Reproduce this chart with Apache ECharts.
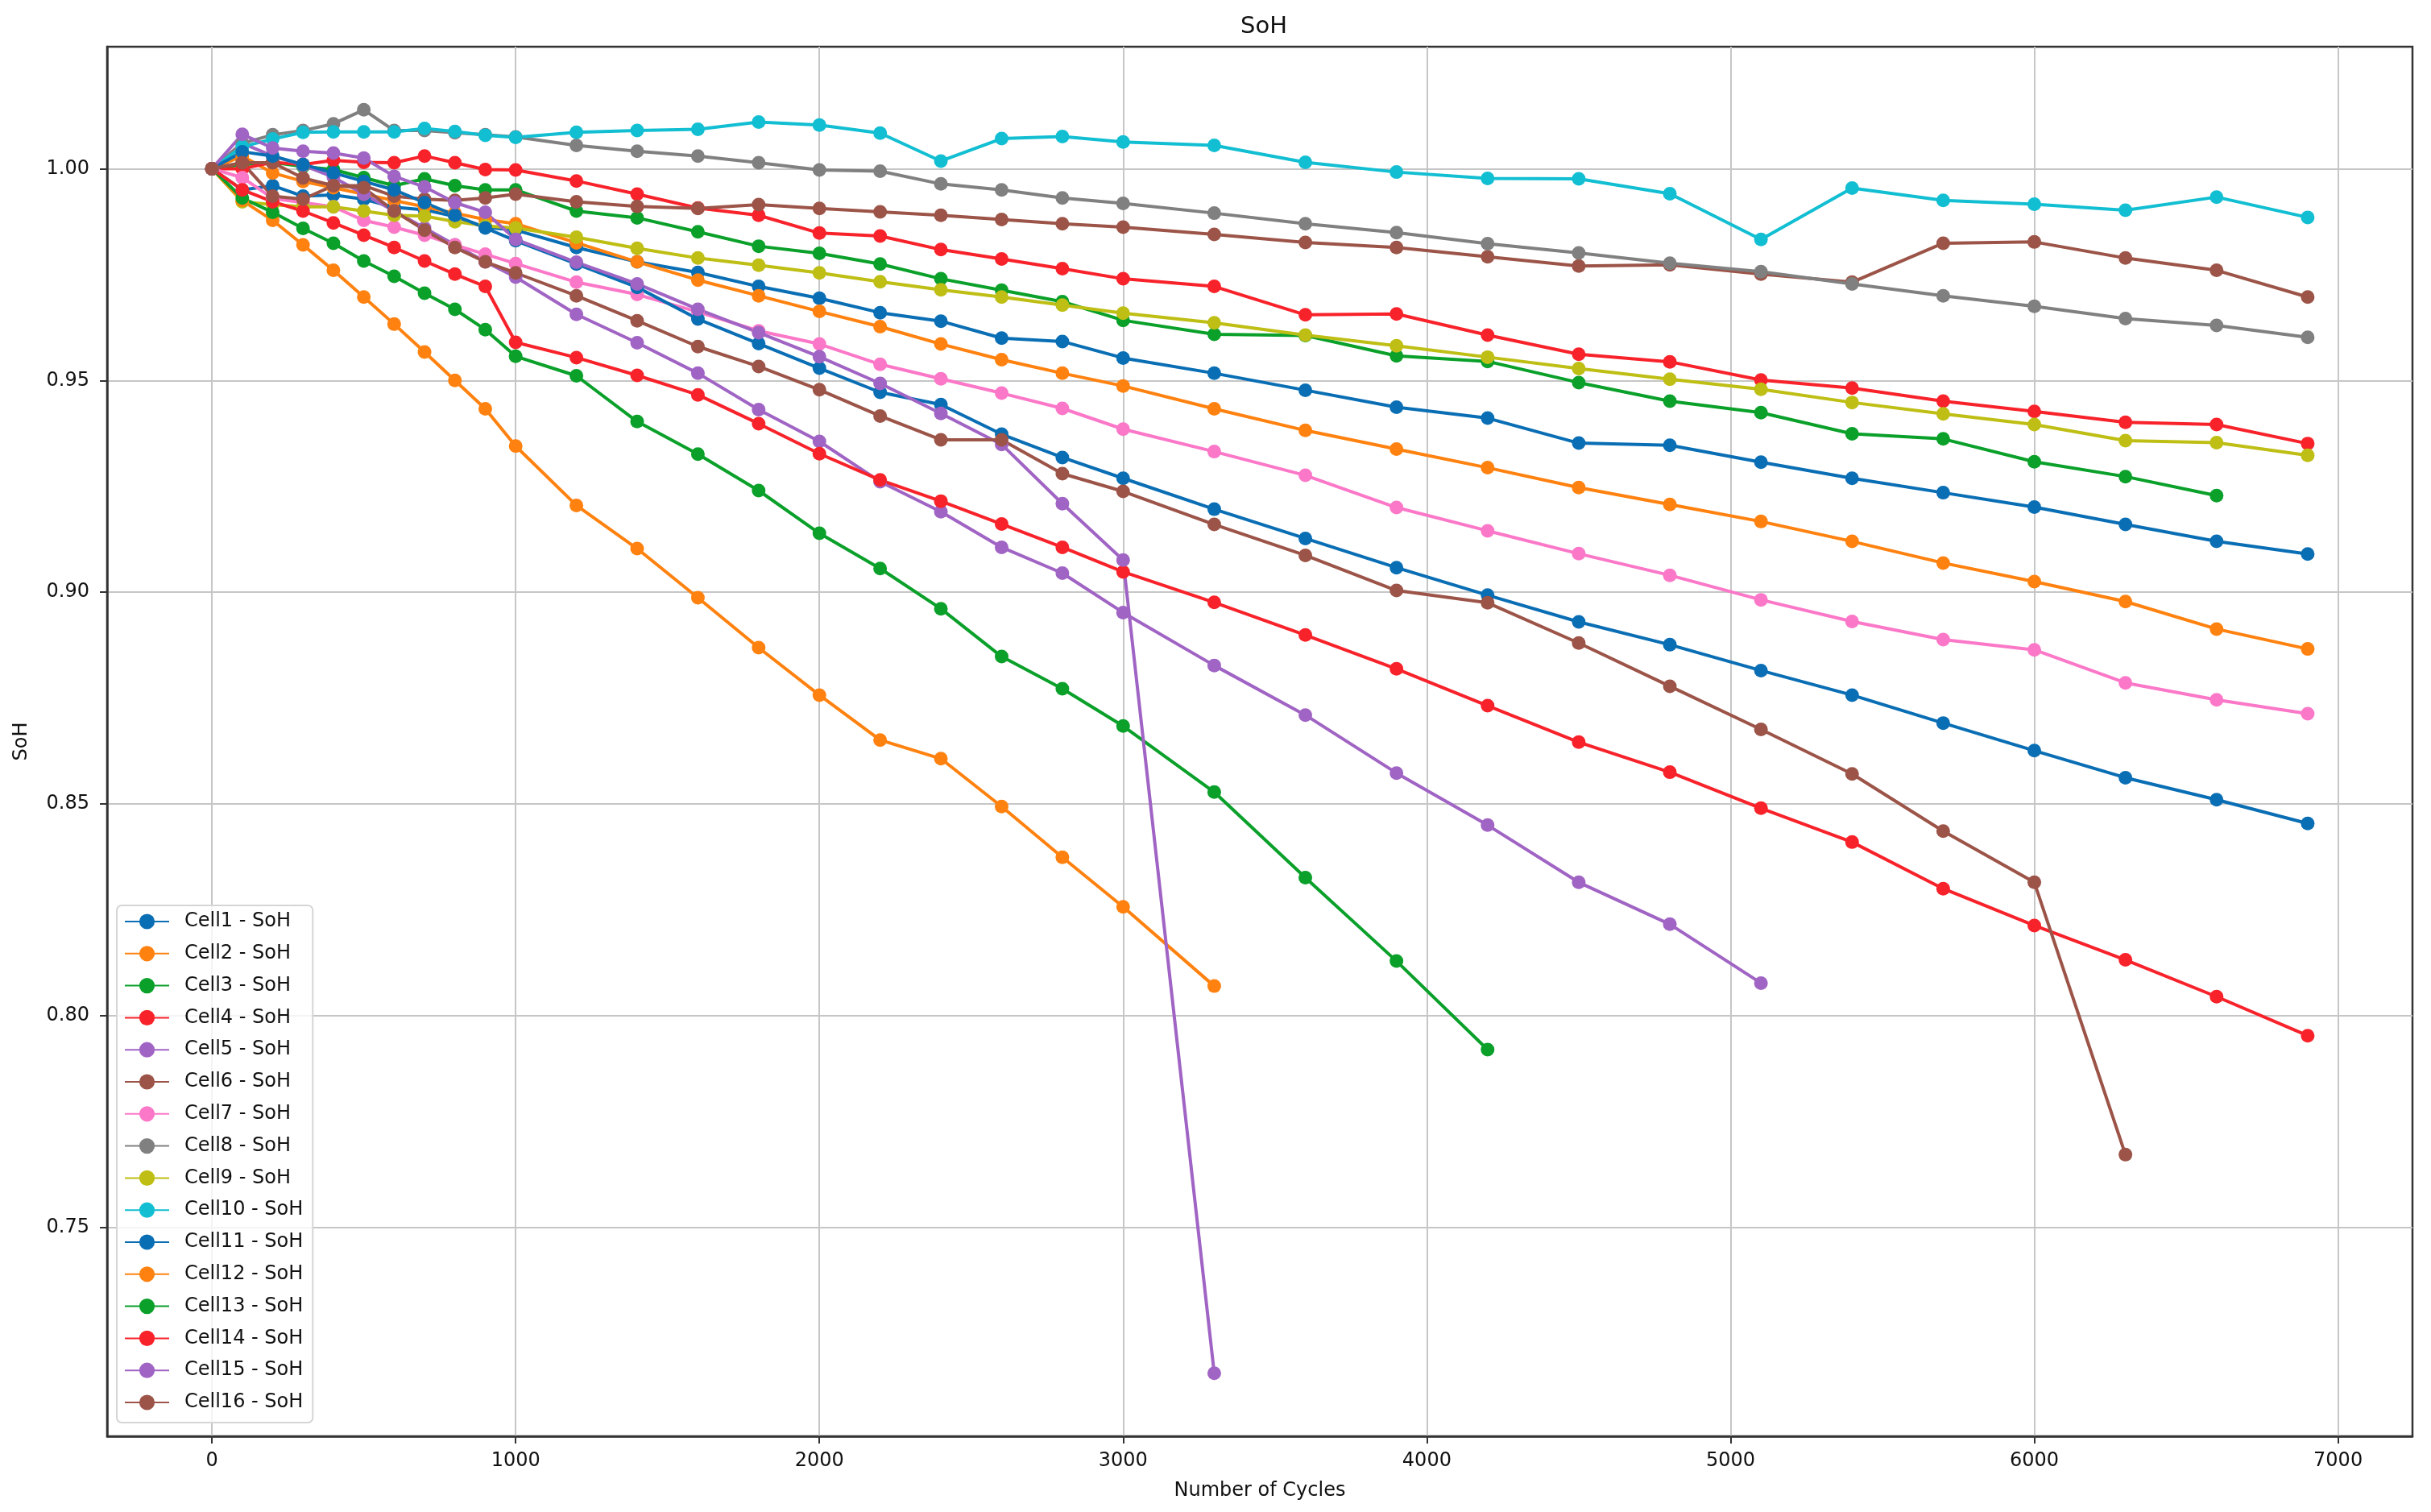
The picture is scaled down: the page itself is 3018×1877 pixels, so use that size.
<!DOCTYPE html>
<html>
<head>
<meta charset="utf-8">
<title>SoH</title>
<script src="https://cdn.jsdelivr.net/npm/echarts@6/dist/echarts.min.js"></script>
<style>
  html, body { margin: 0; padding: 0; background: #fff; }
  #soh_charts { width: 3018px; height: 1877px; }
</style>
</head>
<body>
<div id="soh_charts"></div>
<script>
// x轴 - 循环次数
var cycles = [0, 100, 200, 300, 400, 500, 600, 700, 800, 900, 1000, 1200, 1400, 1600, 1800, 2000, 2200, 2400, 2600, 2800, 3000, 3300, 3600, 3900, 4200, 4500, 4800, 5100, 5400, 5700, 6000, 6300, 6600, 6900]

// 每个电芯的 SoH
var cell1 = [1.000, 0.995, 0.996, 0.9935, 0.9938, 0.9928, 0.9909, 0.9903, 0.9887, 0.9862, 0.9855, 0.9814, 0.978, 0.9755, 0.9722, 0.9694, 0.966, 0.964, 0.960, 0.9592, 0.9553, 0.9517, 0.9477, 0.9437, 0.9411, 0.9352, 0.9347, 0.9307, 0.9269, 0.9235, 0.9201, 0.916, 0.912, 0.909]
var cell2 = [1.000, 1.003, 0.999, 0.997, 0.9955, 0.994, 0.9925, 0.991, 0.9895, 0.988, 0.987, 0.9825, 0.978, 0.9737, 0.970, 0.9663, 0.9627, 0.9586, 0.9549, 0.9517, 0.9487, 0.9433, 0.9382, 0.9338, 0.9294, 0.9247, 0.9207, 0.9167, 0.912, 0.9069, 0.9025, 0.8978, 0.8913, 0.8866]
var cell3 = [1.000, 1.001, 1.0015, 1.0005, 0.9998, 0.9979, 0.996, 0.9976, 0.996, 0.995, 0.995, 0.990, 0.9884, 0.9851, 0.9817, 0.980, 0.9775, 0.974, 0.9713, 0.9686, 0.9642, 0.9609, 0.9606, 0.9558, 0.9545, 0.9495, 0.9451, 0.9424, 0.9374, 0.9362, 0.9308, 0.9273, 0.9228]
var cell4 = [1.000, 1.000, 1.0015, 1.001, 1.002, 1.0015, 1.0014, 1.003, 1.0014, 0.9998, 0.9997, 0.9971, 0.994, 0.9907, 0.989, 0.9848, 0.9841, 0.9809, 0.9787, 0.9764, 0.974, 0.9722, 0.9655, 0.9657, 0.9607, 0.9562, 0.9544, 0.9501, 0.9482, 0.9451, 0.9427, 0.9401, 0.9396, 0.9351]
var cell5 = [1.000, 1.006, 1.003, 1.0008, 0.998, 0.994, 0.990, 0.986, 0.982, 0.978, 0.9744, 0.9656, 0.9589, 0.9517, 0.9431, 0.9356, 0.9261, 0.919, 0.9106, 0.9045, 0.8952, 0.8827, 0.871, 0.8573, 0.845, 0.8315, 0.8216, 0.8077]
var cell6 = [1.000, 1.0014, 1.0014, 0.9978, 0.996, 0.996, 0.9935, 0.9928, 0.9925, 0.9931, 0.994, 0.9922, 0.9911, 0.9906, 0.9915, 0.9906, 0.9898, 0.989, 0.988, 0.987, 0.9862, 0.9845, 0.9826, 0.9814, 0.9792, 0.977, 0.9773, 0.9751, 0.9732, 0.9824, 0.9827, 0.9789, 0.976, 0.9697]
var cell7 = [1.000, 0.9979, 0.993, 0.992, 0.991, 0.9878, 0.9862, 0.9843, 0.982, 0.9798, 0.9776, 0.9732, 0.9703, 0.9662, 0.9617, 0.9586, 0.9538, 0.9504, 0.947, 0.9434, 0.9385, 0.9332, 0.9276, 0.920, 0.9145, 0.9091, 0.904, 0.8982, 0.8931, 0.8888, 0.8864, 0.8786, 0.8746, 0.8713]
var cell8 = [1.000, 1.006, 1.008, 1.009, 1.0106, 1.0139, 1.009, 1.009, 1.0085, 1.008, 1.0075, 1.0055, 1.0041, 1.003, 1.0014, 0.9997, 0.9994, 0.9964, 0.995, 0.9931, 0.9918, 0.9895, 0.987, 0.9849, 0.9823, 0.9801, 0.9777, 0.9757, 0.9728, 0.970, 0.9675, 0.9646, 0.963, 0.9602]
var cell9 = [1.000, 0.9922, 0.9915, 0.991, 0.991, 0.990, 0.989, 0.9888, 0.9875, 0.9865, 0.986, 0.9838, 0.9812, 0.9789, 0.9772, 0.9754, 0.9733, 0.9714, 0.9697, 0.9678, 0.9659, 0.9636, 0.9607, 0.9582, 0.9555, 0.9528, 0.9503, 0.9479, 0.9448, 0.9421, 0.9396, 0.9358, 0.9353, 0.9323]
var cell10 = [1.000, 1.0052, 1.007, 1.0086, 1.0087, 1.0087, 1.0087, 1.0095, 1.0088, 1.0079, 1.0074, 1.0086, 1.009, 1.0093, 1.011, 1.0103, 1.0084, 1.0018, 1.0071, 1.0076, 1.0063, 1.0055, 1.0015, 0.9992, 0.9977, 0.9976, 0.9941, 0.9833, 0.9954, 0.9925, 0.9916, 0.9902, 0.9933, 0.9885]
var cell11 = [1.000, 1.004, 1.003, 1.001, 0.999, 0.997, 0.995, 0.992, 0.989, 0.986, 0.983, 0.9775, 0.972, 0.9645, 0.9587, 0.9529, 0.9472, 0.9443, 0.9373, 0.9318, 0.9269, 0.9196, 0.9127, 0.9058, 0.8993, 0.893, 0.8876, 0.8815, 0.8757, 0.8691, 0.8626, 0.8562, 0.851, 0.8454]
var cell12 = [1.000, 0.9925, 0.9878, 0.982, 0.976, 0.9697, 0.9633, 0.9567, 0.950, 0.9433, 0.9345, 0.9205, 0.9103, 0.8987, 0.8869, 0.8757, 0.8651, 0.8607, 0.8494, 0.8374, 0.8257, 0.807]
var cell13 = [1.000, 0.9931, 0.9897, 0.9859, 0.9824, 0.9782, 0.9746, 0.9706, 0.9668, 0.962, 0.9557, 0.9511, 0.9403, 0.9326, 0.924, 0.9139, 0.9056, 0.8961, 0.8848, 0.8772, 0.8684, 0.8528, 0.8326, 0.8129, 0.792]
var cell14 = [1.000, 0.995, 0.9922, 0.990, 0.9872, 0.9843, 0.9814, 0.9782, 0.9751, 0.9722, 0.959, 0.9554, 0.9512, 0.9466, 0.9398, 0.9327, 0.9265, 0.9215, 0.9161, 0.9106, 0.9048, 0.8976, 0.8899, 0.8819, 0.8732, 0.8646, 0.8575, 0.849, 0.841, 0.830, 0.8213, 0.8132, 0.8045, 0.7953]
var cell15 = [1.000, 1.0081, 1.0049, 1.0041, 1.0037, 1.0025, 0.9982, 0.9957, 0.992, 0.9897, 0.9833, 0.9779, 0.9728, 0.9668, 0.9613, 0.9556, 0.9493, 0.9422, 0.9349, 0.9209, 0.9076, 0.7156]
var cell16 = [1.000, 1.0014, 0.9935, 0.9928, 0.996, 0.9955, 0.990, 0.9855, 0.9814, 0.978, 0.9754, 0.970, 0.9641, 0.958, 0.9533, 0.9478, 0.9416, 0.936, 0.936, 0.928, 0.9238, 0.916, 0.9087, 0.9004, 0.8975, 0.888, 0.8778, 0.8676, 0.8571, 0.8436, 0.8315, 0.7672]

var cellNames = ['Cell1 - SoH', 'Cell2 - SoH', 'Cell3 - SoH', 'Cell4 - SoH', 'Cell5 - SoH', 'Cell6 - SoH', 'Cell7 - SoH', 'Cell8 - SoH', 'Cell9 - SoH', 'Cell10 - SoH', 'Cell11 - SoH', 'Cell12 - SoH', 'Cell13 - SoH', 'Cell14 - SoH', 'Cell15 - SoH', 'Cell16 - SoH']
var cellData = [cell1, cell2, cell3, cell4, cell5, cell6, cell7, cell8, cell9, cell10, cell11, cell12, cell13, cell14, cell15, cell16]

// 刻度
var xTicks = [0, 1000, 2000, 3000, 4000, 5000, 6000, 7000]
var yTicks = [0.75, 0.80, 0.85, 0.90, 0.95, 1.00]

var colors = ['#0a6eb4', '#ff8210', '#0aa02a', '#f8222a', '#a064c4', '#9c5448', '#fb78c8', '#808080', '#bebe14', '#12bed2',
  '#0a6eb4', '#ff8210', '#0aa02a', '#f8222a', '#a064c4', '#9c5448']

var font = 'DejaVu Sans'

var series = cellNames.map(function (name, i) {
  var vals = cellData[i]
  return {
    name: name,
    type: 'line',
    symbol: 'circle',
    symbolSize: 17,
    showAllSymbol: true,
    lineStyle: { color: colors[i], width: 4 },
    itemStyle: { color: colors[i] },
    emphasis: { disabled: true },
    data: vals.map(function (v, k) { return [cycles[k], v] }),
  }
})

var myChart = echarts.init(document.getElementById('soh_charts'), null, { renderer: 'canvas' })

var option = {
  animation: false,
  backgroundColor: '#fff',
  color: colors,
  title: {
    text: 'SoH',
    left: 1564,
    textAlign: 'center',
    top: 14,
    textStyle: { fontFamily: font, fontSize: 29, fontWeight: 'normal', color: '#111' },
  },
  grid: {
    left: 133,
    right: 23,
    top: 58,
    bottom: 94,
    show: true,
    borderColor: '#333',
    borderWidth: 2.5,
    backgroundColor: 'transparent',
    outerBoundsMode: 'none',
  },
  legend: {
    orient: 'vertical',
    left: 145,
    top: 1124,
    data: cellNames,
    itemWidth: 55,
    itemHeight: 24,
    itemGap: 15.8,
    padding: [8, 12, 13, 9],
    backgroundColor: 'rgba(255,255,255,0.8)',
    borderColor: '#d5d5d5',
    borderWidth: 2,
    borderRadius: 6,
    selectedMode: false,
    textStyle: {
      fontFamily: font,
      fontSize: 24,
      lineHeight: 24,
      color: '#111',
      padding: [0, 0, 0, 14],
    },
  },
  xAxis: {
    type: 'value',
    min: -345,
    max: 7245,
    name: 'Number of Cycles',
    nameLocation: 'middle',
    nameGap: 56,
    nameTextStyle: { fontFamily: font, fontSize: 24, color: '#111' },
    axisLine: { show: true, onZero: false, lineStyle: { color: '#333', width: 2.5 } },
    axisTick: { show: true, length: 9, customValues: xTicks, lineStyle: { color: '#333', width: 2 } },
    axisLabel: {
      customValues: xTicks,
      margin: 19,
      fontFamily: font,
      fontSize: 24,
      color: '#111',
      formatter: function (v) { return String(v) },
    },
    splitLine: { show: true, lineStyle: { color: '#c6c6c6', width: 2 } },
  },
  yAxis: {
    type: 'value',
    min: 0.7007,
    max: 1.0288,
    name: 'SoH',
    nameLocation: 'middle',
    nameGap: 94,
    nameTextStyle: { fontFamily: font, fontSize: 24, color: '#111' },
    axisLine: { show: true, onZero: false, lineStyle: { color: '#333', width: 2.5 } },
    axisTick: { show: true, length: 9, customValues: yTicks, lineStyle: { color: '#333', width: 2 } },
    axisLabel: {
      customValues: yTicks,
      margin: 22,
      fontFamily: font,
      fontSize: 24,
      color: '#111',
      formatter: function (v) { return v.toFixed(2) },
    },
    splitLine: { show: true, lineStyle: { color: '#c6c6c6', width: 2 } },
  },
  series: series,
}

myChart.setOption(option)
window.onresize = myChart.resize
</script>
</body>
</html>
